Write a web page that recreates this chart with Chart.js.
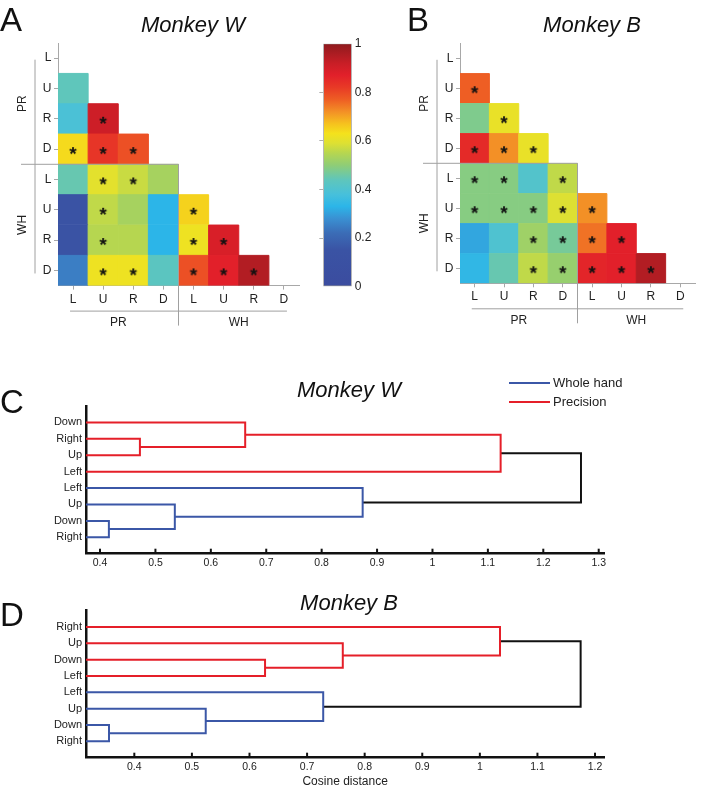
<!DOCTYPE html>
<html lang="en">
<head>
<meta charset="UTF-8">
<title>Monkey W / Monkey B</title>
<script src="https://cdn.jsdelivr.net/npm/chart.js"></script>
<style>
  body { margin: 0; background: #fff; font-family: "Liberation Sans", Arial, Helvetica, sans-serif; }
  #fig { position: relative; width: 701px; height: 789px; overflow: hidden; }
  #fig canvas { position: absolute; }
  .txt { position: absolute; color: #111; white-space: nowrap; line-height: 1; }
  .letter { font-size: 33px; }
  .ttl { font-size: 22px; font-style: italic; transform: translateX(-50%); }
  .key { position: absolute; display: flex; align-items: center; font-size: 13px; height: 13px; line-height: 13px; color: #222; }
  .key i { display: inline-block; width: 41px; height: 2px; margin-right: 3px; }
</style>
</head>
<body>
<div id="fig">
  <canvas id="heatW" style="left:0;top:0" width="310" height="340"></canvas>
  <canvas id="cbar" style="left:300px;top:0" width="80" height="300"></canvas>
  <canvas id="heatB" style="left:380px;top:0" width="321" height="340"></canvas>
  <canvas id="dendW" style="left:0;top:370px" width="701" height="210"></canvas>
  <canvas id="dendB" style="left:0;top:590px" width="701" height="199"></canvas>

  <div class="txt letter" style="left:0;top:3px">A</div>
  <div class="txt letter" style="left:407px;top:3px">B</div>
  <div class="txt letter" style="left:0;top:385px">C</div>
  <div class="txt letter" style="left:0;top:598px">D</div>
  <div class="txt ttl" style="left:193px;top:14px">Monkey W</div>
  <div class="txt ttl" style="left:592px;top:14px">Monkey B</div>
  <div class="txt ttl" style="left:349px;top:379px">Monkey W</div>
  <div class="txt ttl" style="left:349px;top:592px">Monkey B</div>
  <div id="keys"></div>
</div>

<script>
  // ---- data ----
  const dirLabels = ['L', 'U', 'R', 'D', 'L', 'U', 'R', 'D'];
  const groupLabels = ['PR', 'WH'];

  // lower triangle, rows/cols: PR L,U,R,D then WH L,U,R,D
  const corrW = [
    [],
    [0.44],
    [0.39, 0.91],
    [0.64, 0.83, 0.79],
    [0.45, 0.60, 0.57, 0.53],
    [0.15, 0.56, 0.53, 0.33, 0.65],
    [0.15, 0.55, 0.55, 0.33, 0.62, 0.89],
    [0.25, 0.62, 0.62, 0.43, 0.79, 0.87, 0.95]
  ];
  const sigW = [
    [],
    [0],
    [0, 1],
    [1, 1, 1],
    [0, 1, 1, 0],
    [0, 1, 0, 0, 1],
    [0, 1, 0, 0, 1, 1],
    [0, 1, 1, 0, 1, 1, 1]
  ];
  const corrB = [
    [],
    [0.77],
    [0.48, 0.61],
    [0.85, 0.72, 0.61],
    [0.49, 0.49, 0.41, 0.56],
    [0.49, 0.49, 0.49, 0.59, 0.72],
    [0.31, 0.40, 0.52, 0.47, 0.75, 0.87],
    [0.34, 0.45, 0.56, 0.51, 0.86, 0.87, 0.95]
  ];
  const sigB = [
    [],
    [1],
    [0, 1],
    [1, 1, 1],
    [1, 1, 0, 1],
    [1, 1, 1, 1, 1],
    [0, 0, 1, 1, 1, 1],
    [0, 0, 1, 1, 1, 1, 1]
  ];
  const cbarTicks = [0, 0.2, 0.4, 0.6, 0.8, 1];

  // dendrograms: leaves top to bottom, links [childA, childB, height] (ids 9.. are links)
  const leavesW = ['Down', 'Right', 'Up', 'Left', 'Left', 'Up', 'Down', 'Right'];
  const linksW = [[2, 3, 0.472], [1, 9, 0.662], [10, 4, 1.123], [7, 8, 0.416], [6, 12, 0.535], [5, 13, 0.874], [11, 14, 1.268]];
  const leavesB = ['Right', 'Up', 'Down', 'Left', 'Left', 'Up', 'Down', 'Right'];
  const linksB = [[3, 4, 0.627], [2, 9, 0.762], [1, 10, 1.035], [7, 8, 0.356], [6, 12, 0.524], [5, 13, 0.728], [11, 14, 1.175]];
  const linkGroups = ['pr', 'pr', 'pr', 'wh', 'wh', 'wh', 'root'];
  const ticksW = [0.4, 0.5, 0.6, 0.7, 0.8, 0.9, 1, 1.1, 1.2, 1.3];
  const ticksB = [0.4, 0.5, 0.6, 0.7, 0.8, 0.9, 1, 1.1, 1.2];
  const keyNames = ['Whole hand', 'Precision'];

  // ---- styles ----
  const lineColors = { pr: '#e51f29', wh: '#3b57a7', root: '#111' };
  const cmapStops = [
    [0.00, '#3b4c9f'], [0.15, '#3a53a4'], [0.22, '#3b6cb6'], [0.28, '#3a90d2'],
    [0.33, '#2cb5e8'], [0.38, '#47c0db'], [0.44, '#5fc6bb'], [0.50, '#8fcd76'],
    [0.55, '#b6d650'], [0.59, '#dde033'], [0.63, '#f4e21c'], [0.67, '#f6c21e'],
    [0.72, '#f39026'], [0.77, '#ee5e24'], [0.82, '#e83a26'], [0.87, '#e2202a'],
    [0.92, '#c81e26'], [1.00, '#8e1a1e']
  ];

  Chart.defaults.font.family = '"Liberation Sans", Arial, Helvetica, sans-serif';
  Chart.defaults.color = '#222';
  Chart.defaults.animation = false;
  Chart.defaults.events = [];
  Chart.defaults.plugins.legend.display = false;
  Chart.defaults.plugins.tooltip.enabled = false;

  function hexRgb(h) {
    return [1, 3, 5].map(i => parseInt(h.slice(i, i + 2), 16));
  }
  function cmap(v) {
    for (let i = 1; i < cmapStops.length; i++) {
      const [v1, c1] = cmapStops[i];
      if (v <= v1) {
        const [v0, c0] = cmapStops[i - 1];
        const t = (v - v0) / (v1 - v0);
        const a = hexRgb(c0), b = hexRgb(c1);
        return 'rgb(' + a.map((x, k) => Math.round(x + (b[k] - x) * t)).join(',') + ')';
      }
    }
    return cmapStops[cmapStops.length - 1][1];
  }

  // asterisk glyph used as point style
  const star = (function () {
    const c = document.createElement('canvas');
    c.width = 16; c.height = 16;
    const g = c.getContext('2d');
    g.font = 'bold 19px "Liberation Sans", Arial';
    g.textAlign = 'center';
    const m = g.measureText('*');
    g.fillStyle = '#111';
    g.fillText('*', 8, 8 + (m.actualBoundingBoxAscent - m.actualBoundingBoxDescent) / 2 + 1.5);
    return c;
  })();

  function cellSide(chart) {
    const x = chart.scales.x;
    return Math.abs(x.getPixelForValue(1) - x.getPixelForValue(0));
  }

  // group brackets / labels around the heatmaps
  const groupPlugin = {
    id: 'groups',
    afterDraw(chart) {
      const { ctx, chartArea: a, scales: { x, y } } = chart;
      const xb = x.getPixelForValue(3.5), yb = y.getPixelForValue(3.5);
      ctx.save();
      ctx.strokeStyle = '#a0a0a0';
      ctx.lineWidth = 1;
      ctx.beginPath();
      ctx.moveTo(a.left - 23, y.getPixelForValue(0.05)); ctx.lineTo(a.left - 23, y.getPixelForValue(7.1));
      ctx.moveTo(x.getPixelForValue(-0.1), a.bottom + 25.5); ctx.lineTo(x.getPixelForValue(7.1), a.bottom + 25.5);
      ctx.moveTo(a.left - 37, yb); ctx.lineTo(xb, yb);
      ctx.lineTo(xb, a.bottom + 40);
      ctx.stroke();
      ctx.fillStyle = '#222';
      ctx.font = '12px "Liberation Sans", Arial';
      ctx.textAlign = 'center';
      ctx.textBaseline = 'middle';
      groupLabels.forEach((g, i) => {
        const c = 1.5 + 4 * i;
        ctx.fillText(g, x.getPixelForValue(c), a.bottom + 37);
        ctx.save();
        ctx.translate(a.left - 35.5, y.getPixelForValue(c));
        ctx.rotate(-Math.PI / 2);
        ctx.fillText(g, 0, 0);
        ctx.restore();
      });
      ctx.restore();
    }
  };

  function heatmap(id, corr, sig, pad, yw) {
    const cells = [], stars = [];
    corr.forEach((row, r) => row.forEach((v, c) => {
      cells.push({ x: c, y: r, v: v });
      if (sig[r][c]) stars.push({ x: c, y: r });
    }));
    const fill = ctx => ctx.raw ? cmap(ctx.raw.v) : '#fff';
    const axis = (reverse, fit) => ({
      type: 'linear', min: -0.5, max: 7.5, reverse: reverse,
      afterBuildTicks: s => { s.ticks = dirLabels.map((_, i) => ({ value: i })); },
      afterFit: fit,
      ticks: { callback: v => dirLabels[v], font: { size: 12 }, color: '#222', padding: 2.5 },
      grid: { drawOnChartArea: false, tickLength: 4, color: '#a8a8a8' },
      border: { color: '#a8a8a8' }
    });
    return new Chart(document.getElementById(id), {
      type: 'scatter',
      data: {
        datasets: [
          { data: stars, pointStyle: star, pointRadius: 5 },
          {
            data: cells, pointStyle: 'rect',
            pointRadius: ctx => cellSide(ctx.chart) * Math.SQRT1_2,
            backgroundColor: fill, borderColor: fill, borderWidth: 1
          }
        ]
      },
      options: {
        responsive: false,
        layout: { padding: pad },
        scales: {
          x: axis(false, s => { s.height = 20; }),
          y: axis(true, s => { s.width = yw; })
        }
      },
      plugins: [groupPlugin]
    });
  }

  heatmap('heatW', corrW, sigW, { left: 0, top: 43, right: 11, bottom: 34.4 }, 58);
  heatmap('heatB', corrB, sigB, { left: 0, top: 43.3, right: 3, bottom: 36.7 }, 80);

  // colour bar
  new Chart(document.getElementById('cbar'), {
    type: 'bar',
    data: {
      labels: [''],
      datasets: [{
        data: [1], barPercentage: 1, categoryPercentage: 1,
        borderWidth: 1, borderColor: '#9a9a9a', borderSkipped: false,
        backgroundColor: ctx => {
          const a = ctx.chart.chartArea;
          if (!a) return '#fff';
          const g = ctx.chart.ctx.createLinearGradient(0, a.bottom, 0, a.top);
          cmapStops.forEach(s => g.addColorStop(s[0], s[1]));
          return g;
        }
      }]
    },
    options: {
      responsive: false,
      layout: { padding: { left: 0, right: 0, top: 43.7, bottom: 13.3 } },
      scales: {
        x: { display: false },
        y: {
          position: 'right', min: 0, max: 1,
          afterBuildTicks: s => { s.ticks = cbarTicks.map(v => ({ value: v })); },
          afterFit: s => { s.width = 28.3; },
          ticks: { callback: v => String(v), font: { size: 12 }, color: '#222', padding: 3 },
          grid: { drawOnChartArea: false, drawTicks: false },
          border: { display: false }
        },
        yL: {
          position: 'left', min: 0, max: 1,
          afterBuildTicks: s => { s.ticks = cbarTicks.slice(1, -1).map(v => ({ value: v })); },
          afterFit: s => { s.width = 23.3; },
          ticks: { display: false },
          grid: { drawOnChartArea: false, tickLength: 4, color: '#b0b0b0' },
          border: { display: false }
        }
      }
    }
  });

  // inward tick marks on the dendrogram x axis
  const innerTicks = {
    id: 'innerTicks',
    afterDraw(chart) {
      const x = chart.scales.x, a = chart.chartArea, ctx = chart.ctx;
      ctx.save();
      ctx.strokeStyle = '#111';
      ctx.lineWidth = 2;
      x.ticks.forEach((t, i) => {
        const px = x.getPixelForTick(i);
        ctx.beginPath();
        ctx.moveTo(px, a.bottom);
        ctx.lineTo(px, a.bottom - 5);
        ctx.stroke();
      });
      ctx.restore();
    }
  };

  function dendrogram(id, leaves, links, ticks, range, pad, xh, xTitle) {
    const pos = {}, hgt = {};
    leaves.forEach((_, i) => { pos[i + 1] = i + 1; hgt[i + 1] = 0; });
    const datasets = links.map((l, k) => {
      const [a, b, d] = l, node = leaves.length + 1 + k;
      pos[node] = (pos[a] + pos[b]) / 2;
      hgt[node] = d;
      return {
        data: [{ x: hgt[a], y: pos[a] }, { x: d, y: pos[a] }, { x: d, y: pos[b] }, { x: hgt[b], y: pos[b] }],
        showLine: true, pointRadius: 0, borderWidth: 2,
        borderColor: lineColors[linkGroups[k]], tension: 0
      };
    });
    return new Chart(document.getElementById(id), {
      type: 'scatter',
      data: { datasets: datasets },
      options: {
        responsive: false,
        layout: { padding: pad },
        scales: {
          x: {
            type: 'linear', min: range[0], max: range[1],
            afterBuildTicks: s => { s.ticks = ticks.map(v => ({ value: v })); },
            afterFit: s => { s.height = xh; },
            ticks: { callback: v => String(v), font: { size: 10.5 }, color: '#222', padding: 3 },
            grid: { display: false, drawTicks: false },
            border: { color: '#111', width: 2.5 },
            title: { display: !!xTitle, text: xTitle || '', font: { size: 12 }, color: '#222', padding: 0 }
          },
          y: {
            type: 'linear', min: 0, max: leaves.length + 1, reverse: true,
            afterBuildTicks: s => { s.ticks = leaves.map((_, i) => ({ value: i + 1 })); },
            afterFit: s => { s.width = 86; },
            ticks: { callback: v => leaves[v - 1], font: { size: 11 }, color: '#222', padding: 4 },
            grid: { display: false, drawTicks: false },
            border: { color: '#111', width: 2.5 }
          }
        }
      },
      plugins: [innerTicks]
    });
  }

  dendrogram('dendW', leavesW, linksW, ticksW, [0.3747, 1.3101], { left: 0, top: 36, right: 96.7, bottom: 6.3 }, 20);
  dendrogram('dendB', leavesB, linksB, ticksB, [0.3161, 1.2161], { left: 0, top: 20.7, right: 96.7, bottom: 0 }, 31.3, 'Cosine distance');

  // legend for panel C
  const keys = document.getElementById('keys');
  [lineColors.wh, lineColors.pr].forEach((c, i) => {
    const d = document.createElement('div');
    d.className = 'key';
    d.style.left = '509px';
    d.style.top = (376 + 19 * i) + 'px';
    d.innerHTML = '<i style="background:' + c + '"></i>' + keyNames[i];
    keys.appendChild(d);
  });
</script>
</body>
</html>
